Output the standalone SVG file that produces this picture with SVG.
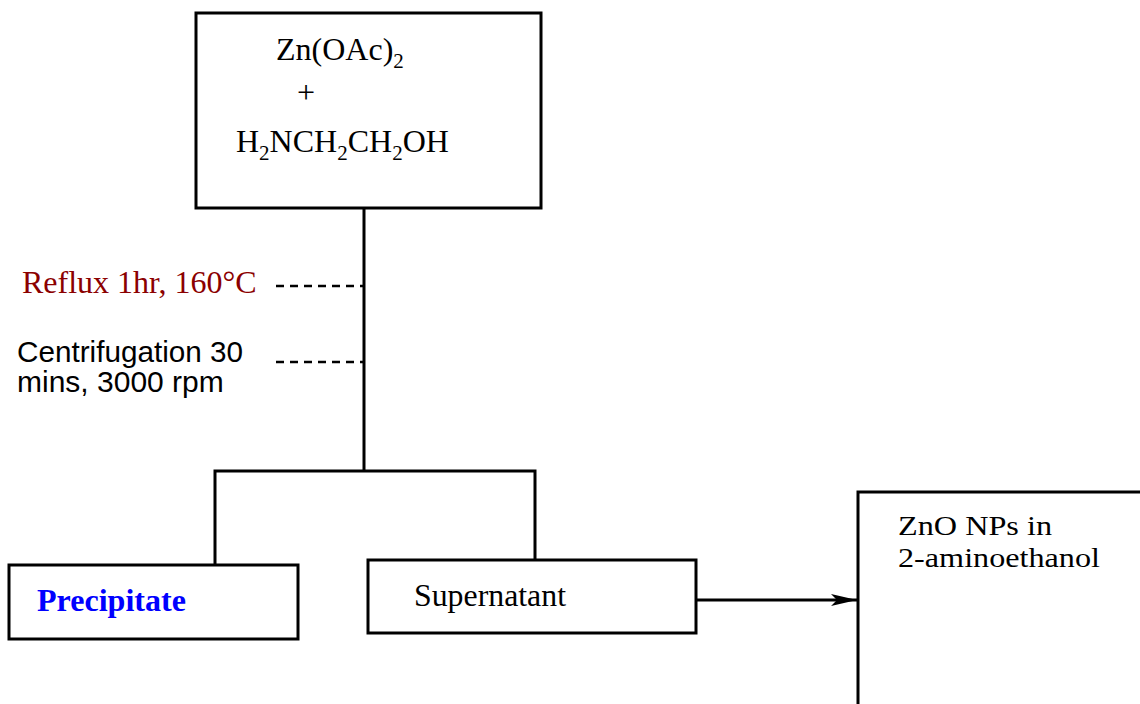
<svg xmlns="http://www.w3.org/2000/svg" width="1140" height="704" viewBox="0 0 1140 704">
<defs>
<style>
.box{fill:#fff;stroke:#000;stroke-width:3}
.ln{fill:none;stroke:#000;stroke-width:3}
.dash{fill:none;stroke:#000;stroke-width:2.5;stroke-dasharray:8,6}
.serif{font-family:"Liberation Serif","Times New Roman",serif;font-size:32px;fill:#000}
.sans{font-family:"Liberation Sans",Arial,sans-serif;font-size:30px;fill:#000}
</style>
<marker id="arr" markerWidth="26" markerHeight="12" refX="26" refY="6" orient="auto" markerUnits="userSpaceOnUse">
<path d="M0,0 L26,6 L0,12 L6,6 Z" fill="#000"/>
</marker>
</defs>
<rect width="1140" height="704" fill="#fff"/>
<g id="connectors">
<line class="ln" x1="364" y1="208" x2="364" y2="471"/>
<polyline class="ln" points="215,565 215,471 535,471 535,560"/>
<line class="dash" x1="276" y1="286" x2="363" y2="286"/>
<line class="dash" x1="276" y1="362" x2="363" y2="362"/>
<line class="ln" x1="697" y1="600" x2="857" y2="600" marker-end="url(#arr)"/>
</g>
<g id="start">
<rect class="box" x="196" y="13" width="345" height="195"/>
<text class="serif" x="276" y="60">Zn(OAc)<tspan font-size="21" dy="8">2</tspan></text>
<text class="serif" x="297" y="103">+</text>
<text class="serif" x="236" y="152">H<tspan font-size="21" dy="8">2</tspan><tspan dy="-8">NCH</tspan><tspan font-size="21" dy="8">2</tspan><tspan dy="-8">CH</tspan><tspan font-size="21" dy="8">2</tspan><tspan dy="-8">OH</tspan></text>
</g>
<g id="reflux">
<text class="serif" x="22" y="293" style="fill:#8b0000">Reflux 1hr, 160°C</text>
</g>
<g id="centrifugation">
<text class="sans" x="17" y="362" textLength="226" lengthAdjust="spacingAndGlyphs">Centrifugation 30</text>
<text class="sans" x="17" y="392">mins, 3000 rpm</text>
</g>
<g id="precipitate">
<rect class="box" x="9" y="565" width="289" height="74"/>
<text x="37" y="611" style="font-family:'Liberation Serif','Times New Roman',serif;font-size:32px;font-weight:bold;fill:#0000ff" textLength="149" lengthAdjust="spacingAndGlyphs">Precipitate</text>
</g>
<g id="supernatant">
<rect class="box" x="368" y="560" width="328" height="73"/>
<text class="serif" x="414" y="606" textLength="152" lengthAdjust="spacingAndGlyphs">Supernatant</text>
</g>
<g id="product">
<rect class="box" x="858" y="492" width="300" height="260"/>
<text class="serif" x="898" y="535" style="font-size:28px" textLength="154" lengthAdjust="spacingAndGlyphs">ZnO NPs in</text>
<text class="serif" x="898" y="567" style="font-size:28px" textLength="202" lengthAdjust="spacingAndGlyphs">2-aminoethanol</text>
</g>
</svg>
